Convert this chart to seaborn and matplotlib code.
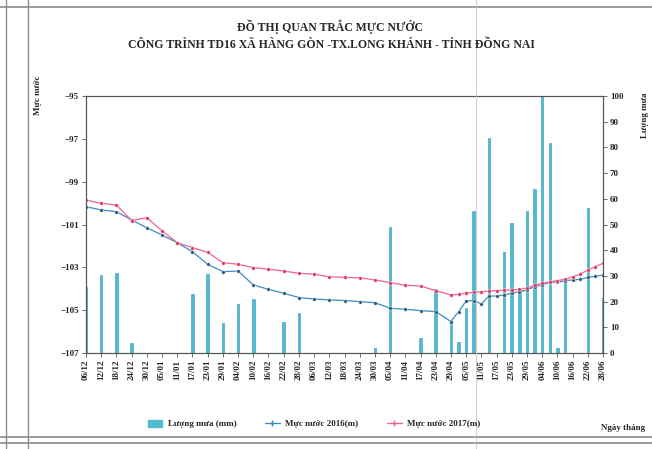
import pandas as pd
import seaborn as sns
import matplotlib.pyplot as plt
from matplotlib.lines import Line2D
from matplotlib.patches import Patch

# ---- data ----
tick_days = ['06/12', '12/12', '18/12', '24/12', '30/12', '05/01', '11/01', '17/01', '23/01', '29/01',
             '04/02', '10/02', '16/02', '22/02', '28/02', '06/03', '12/03', '18/03', '24/03', '30/03',
             '05/04', '11/04', '17/04', '23/04', '29/04', '05/05', '11/05', '17/05', '23/05', '29/05',
             '04/06', '10/06', '16/06', '22/06', '28/06']

level_days = ['06/12', '12/12', '18/12', '24/12', '30/12', '05/01', '11/01', '17/01', '23/01', '29/01',
              '04/02', '10/02', '16/02', '22/02', '28/02', '06/03', '12/03', '18/03', '24/03', '30/03',
              '05/04', '11/04', '17/04', '23/04', '29/04', '02/05', '05/05', '08/05', '11/05', '14/05',
              '17/05', '20/05', '23/05', '26/05', '29/05', '01/06', '04/06', '07/06', '10/06', '13/06',
              '16/06', '19/06', '22/06', '25/06', '28/06']

level_2016 = [-100.17, -100.32, -100.40, -100.79, -101.15, -101.49, -101.85, -102.27, -102.86, -103.20,
              -103.17, -103.82, -104.03, -104.21, -104.41, -104.48, -104.52, -104.55, -104.60, -104.65,
              -104.91, -104.96, -105.02, -105.07, -105.53, -105.07, -104.57, -104.55, -104.71, -104.34,
              -104.34, -104.29, -104.21, -104.14, -104.06, -103.90, -103.82, -103.70, -103.70, -103.62,
              -103.59, -103.56, -103.47, -103.42, -103.36]

level_2017 = [-99.86, -100.01, -100.09, -100.82, -100.68, -101.29, -101.85, -102.08, -102.30, -102.78,
              -102.86, -103.01, -103.09, -103.17, -103.28, -103.32, -103.44, -103.47, -103.49, -103.59,
              -103.71, -103.84, -103.87, -104.09, -104.29, -104.26, -104.21, -104.17, -104.14, -104.10,
              -104.09, -104.06, -104.06, -104.03, -103.98, -103.82, -103.75, -103.67, -103.62, -103.56,
              -103.44, -103.32, -103.12, -102.97, -102.81]

rain_days = ['06/12', '12/12', '18/12', '24/12', '17/01', '23/01', '29/01', '04/02', '10/02', '22/02',
             '28/02', '30/03', '05/04', '17/04', '23/04', '29/04', '02/05', '05/05', '08/05', '14/05',
             '20/05', '23/05', '26/05', '29/05', '01/06', '04/06', '07/06', '10/06', '13/06', '22/06',
             '28/06']
rain_mm = [25.8, 30.4, 31.0, 4.0, 22.8, 30.7, 11.8, 18.9, 21.0, 12.2,
           15.4, 1.8, 49.2, 5.7, 25.0, 12.8, 4.4, 17.4, 55.4, 83.8,
           39.3, 50.5, 24.8, 55.4, 63.7, 100.0, 81.8, 1.8, 28.8, 56.5,
           21.3]


def to_date(s):
    d, m = s.split('/')
    return pd.Timestamp(year=2016 if m == '12' else 2017, month=int(m), day=int(d))


levels = pd.DataFrame({'date': [to_date(s) for s in level_days] * 2,
                       'level': level_2016 + level_2017,
                       'series': ['2016'] * len(level_days) + ['2017'] * len(level_days)})
rain = pd.DataFrame({'date': [to_date(s) for s in rain_days], 'mm': rain_mm})

sns.set_style('ticks')
plt.rcParams['font.family'] = ['Liberation Serif', 'DejaVu Serif']
plt.rcParams['font.weight'] = 'bold'

c_bar = '#4fbad0'
c_2016 = '#3a8cbf'
c_2017 = '#f0628a'

fig = plt.figure(figsize=(6.52, 4.49), dpi=100)
W, H = 652, 449
ax = fig.add_axes([86 / W, 1 - 353 / H, (603 - 86) / W, (353 - 96) / H])
ax2 = ax.twinx()

# rainfall bars on the secondary axis
ax2.bar(rain['date'], rain['mm'], width=1.0, color=c_bar, edgecolor='#2f9bb3', linewidth=0.4)
ax2.set_ylim(0, 100)
ax2.set_yticks(range(0, 101, 10))

# water levels on the primary axis, drawn above the bars
ax.set_zorder(ax2.get_zorder() + 1)
ax.patch.set_visible(False)
sns.lineplot(ax=ax, data=levels, x='date', y='level', hue='series',
             palette={'2016': c_2016, '2017': c_2017}, linewidth=0.9,
             marker='o', markersize=2.6, markeredgewidth=0.3, legend=False)
ax.lines[0].set_markerfacecolor('#2d5877')
ax.lines[1].set_markerfacecolor('#e03468')

ax.set_ylim(-107, -95)
ax.set_yticks(range(-107, -94, 2))
ax.set_xlim(to_date('06/12'), to_date('28/06'))
ax.set_xticks([to_date(s) for s in tick_days])
ax.set_xticklabels(tick_days, rotation=90)
ax.set_xlabel('')
ax.set_ylabel('')

for a in (ax, ax2):
    for side in ('top', 'right', 'left', 'bottom'):
        a.spines[side].set_visible(True)
        a.spines[side].set_color('#555555')
        a.spines[side].set_linewidth(0.8)
    a.tick_params(labelsize=6.5, length=3, width=0.6, color='#555555', pad=2)

# texts
fig.text(330 / W, 1 - 27 / H, 'ĐỒ THỊ QUAN TRẮC MỰC NƯỚC', ha='center', va='center',
         fontsize=8.5, fontweight='bold')
fig.text(331 / W, 1 - 45 / H, 'CÔNG TRÌNH TD16 XÃ HÀNG GÒN -TX.LONG KHÁNH - TỈNH ĐỒNG NAI',
         ha='center', va='center', fontsize=8.5, fontweight='bold')
fig.text(38 / W, 1 - 95 / H, 'Mực nước', rotation=90, ha='center', va='center', fontsize=6.5)
fig.text(645 / W, 1 - 115 / H, 'Lượng mưa', rotation=90, ha='center', va='center', fontsize=6.5)
fig.text(623 / W, 1 - 428 / H, 'Ngày tháng', ha='center', va='center', fontsize=6.5)

handles = [Patch(facecolor=c_bar, edgecolor=c_bar),
           Line2D([], [], color=c_2016, marker='+', markersize=4, linewidth=0.9),
           Line2D([], [], color=c_2017, marker='+', markersize=4, linewidth=0.9)]
fig.legend(handles, ['Lượng mưa (mm)', 'Mực nước 2016(m)', 'Mực nước 2017(m)'],
           loc='center', bbox_to_anchor=(314 / W, 1 - 424 / H), ncol=3, frameon=False,
           fontsize=6.5, handlelength=1.6, handletextpad=0.6, columnspacing=3.2,
           handleheight=0.9)

# scanned page frame
for y in (7, 437, 443):
    fig.add_artist(Line2D([0, 1], [1 - y / H] * 2, color='#8a8a8a', linewidth=1.2))
for x in (6, 28):
    fig.add_artist(Line2D([x / W] * 2, [0, 1], color='#8a8a8a', linewidth=1.0))
fig.add_artist(Line2D([476 / W] * 2, [0, 1], color='#c8c8c8', linewidth=0.6))

fig.savefig('out.png', dpi=100)
